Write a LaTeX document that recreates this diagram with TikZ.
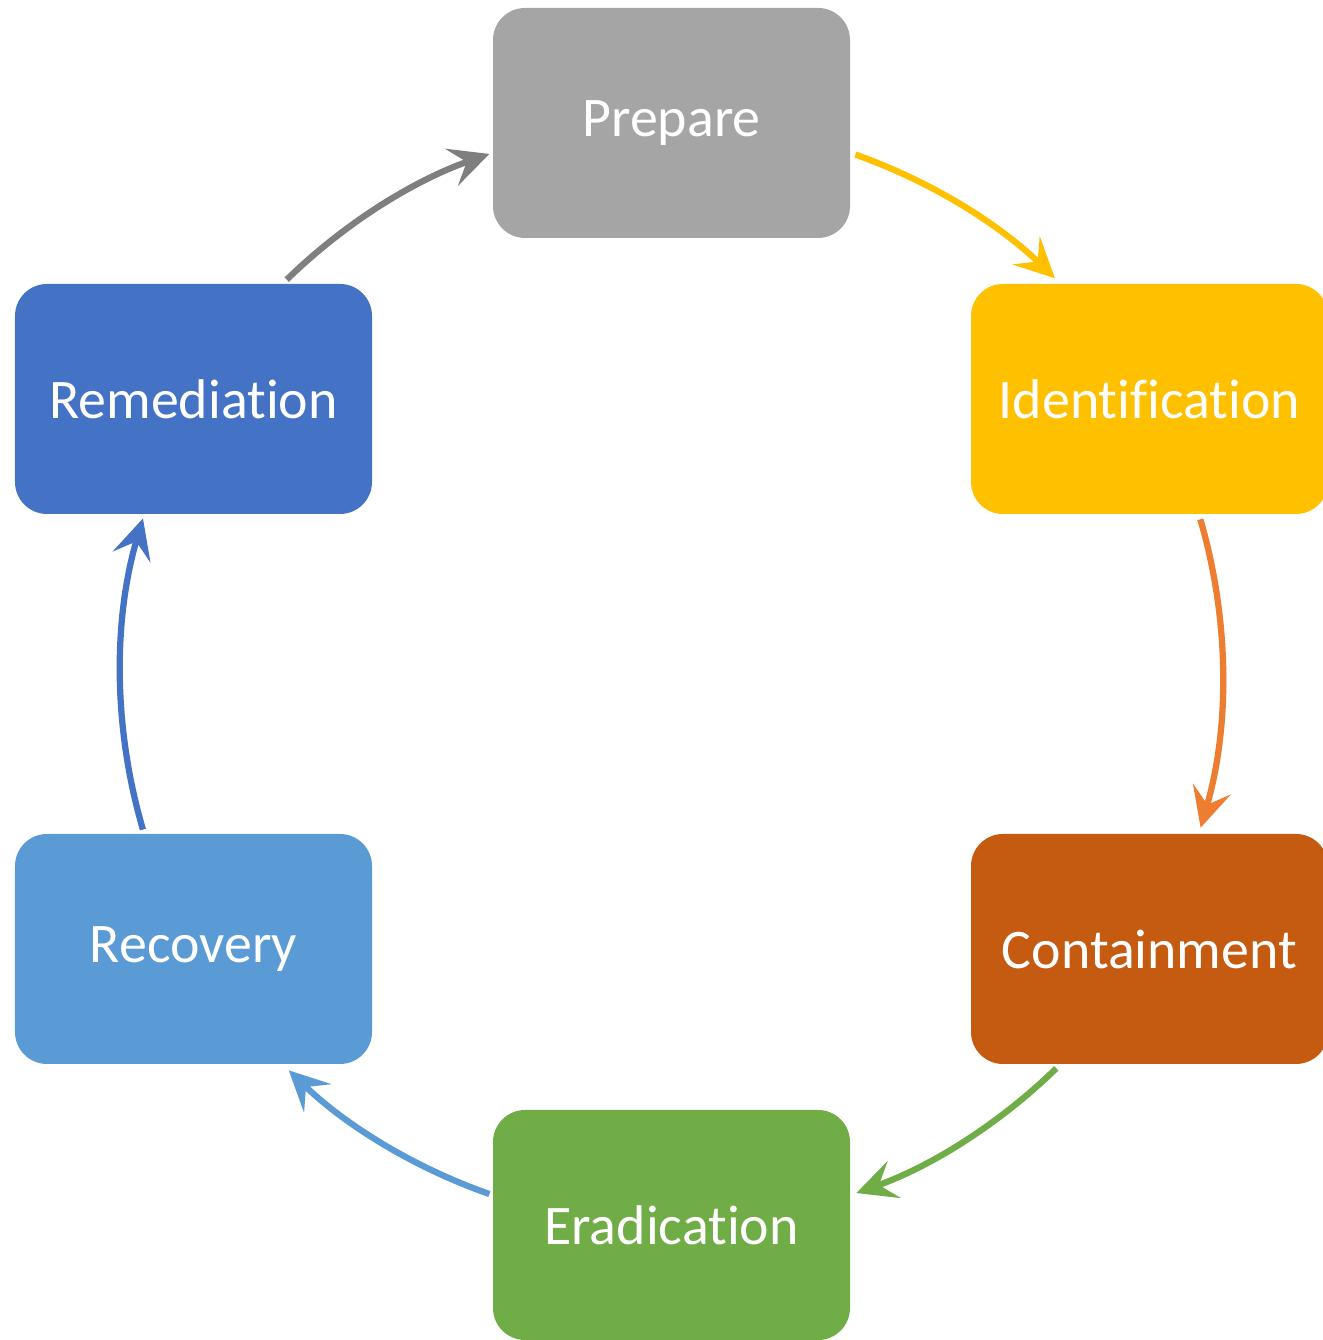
\documentclass[tikz,border=0pt]{standalone}
\usepackage{fontspec}
\setmainfont[Ligatures={NoCommon}]{Carlito}
\usetikzlibrary{arrows.meta,calc}

\definecolor{cPrep}{HTML}{A5A5A5}
\definecolor{cIdent}{HTML}{FFC000}
\definecolor{cCont}{HTML}{C55A11}
\definecolor{cErad}{HTML}{70AD47}
\definecolor{cRec}{HTML}{5B9BD5}
\definecolor{cRem}{HTML}{4472C4}
\definecolor{aIdent}{HTML}{FFC000}
\definecolor{aCont}{HTML}{ED7D31}
\definecolor{aErad}{HTML}{70AD47}
\definecolor{aRec}{HTML}{5B9BD5}
\definecolor{aRem}{HTML}{4472C4}
\definecolor{aPrep}{HTML}{7F7F7F}

\tikzset{
  phase/.style={rectangle, rounded corners=0.64cm, minimum width=7.14cm,
    minimum height=4.6cm, inner sep=0pt, text=white,
    font=\fontsize{31.8}{36}\selectfont},
  cyclearrow/.style={line width=0.125cm,
    -{Stealth[length=0.8cm,width=0.78cm,inset=0.32cm]}},
}

\begin{document}
\begin{tikzpicture}
\useasboundingbox (0,0) rectangle (26.44,26.8);

% centre of the cycle and its radius
\coordinate (O) at (13.43,13.32);
\def\R{11.02}

% the six phases
\node[phase, fill=cPrep]  (prep)  at (13.43,24.34) {Prepare};
\node[phase, fill=cIdent] (ident) at (22.99,18.82) {Identification};
\node[phase, fill=cCont]  (cont)  at (22.99,7.82)  {Containment};
\node[phase, fill=cErad]  (erad)  at (13.43,2.30)  {Eradication};
\node[phase, fill=cRec]   (rec)   at (3.87,7.82)   {Recovery};
\node[phase, fill=cRem]   (rem)   at (3.87,18.82)  {Remediation};

% start points of the arcs, on the cycle's circle
\coordinate (s1) at ($(O)+(70.5:\R)$);
\coordinate (s2) at ($(O)+(16.3:\R)$);
\coordinate (s3) at ($(O)+(-45.7:\R)$);
\coordinate (s4) at ($(O)+(-109.3:\R)$);
\coordinate (s5) at ($(O)+(196.4:\R)$);
\coordinate (s6) at ($(O)+(134.3:\R)$);

% curved arrows between consecutive phases
\draw[cyclearrow, aIdent] (s1) arc[start angle=70.5,  end angle=45.9,   radius=\R cm];
\draw[cyclearrow, aCont]  (s2) arc[start angle=16.3,  end angle=-16.2,  radius=\R cm];
\draw[cyclearrow, aErad]  (s3) arc[start angle=-45.7, end angle=-70.4,  radius=\R cm];
\draw[cyclearrow, aRec]   (s4) arc[start angle=-109.3,end angle=-134.0, radius=\R cm];
\draw[cyclearrow, aRem]   (s5) arc[start angle=196.4, end angle=163.6,  radius=\R cm];
\draw[cyclearrow, aPrep]  (s6) arc[start angle=134.3, end angle=109.3,  radius=\R cm];
\end{tikzpicture}
\end{document}
